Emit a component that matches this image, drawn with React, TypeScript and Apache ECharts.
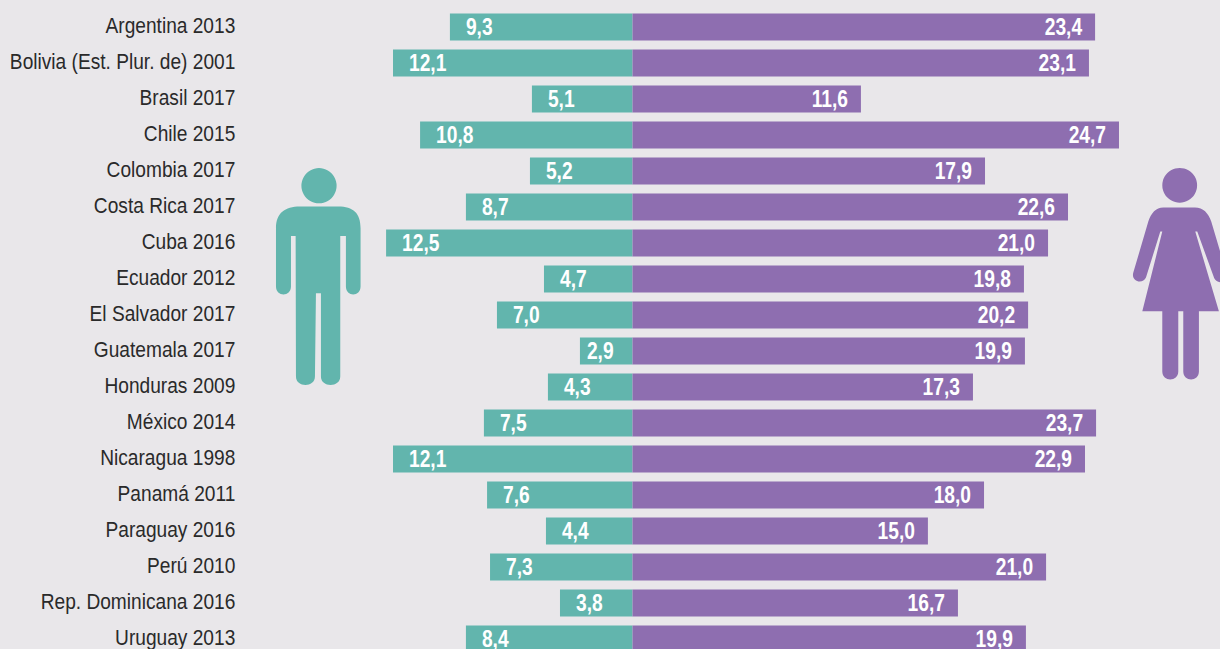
import React, { useEffect, useRef } from "react";
import * as echarts from "echarts";

const categories = [
  "Argentina 2013", "Bolivia (Est. Plur. de) 2001", "Brasil 2017", "Chile 2015", "Colombia 2017",
  "Costa Rica 2017", "Cuba 2016", "Ecuador 2012", "El Salvador 2017", "Guatemala 2017",
  "Honduras 2009", "México 2014", "Nicaragua 1998", "Panamá 2011", "Paraguay 2016",
  "Perú 2010", "Rep. Dominicana 2016", "Uruguay 2013",
];
// Values printed on the bars
const menValues = [9.3, 12.1, 5.1, 10.8, 5.2, 8.7, 12.5, 4.7, 7.0, 2.9, 4.3, 7.5, 12.1, 7.6, 4.4, 7.3, 3.8, 8.4];
const womenValues = [23.4, 23.1, 11.6, 24.7, 17.9, 22.6, 21.0, 19.8, 20.2, 19.9, 17.3, 23.7, 22.9, 18.0, 15.0, 21.0, 16.7, 19.9];
// Bar lengths: in the reference some bars differ slightly from their printed value
const menBars = [9.24, 12.12, 5.09, 10.75, 5.19, 8.43, 12.47, 4.48, 6.86, 2.66, 4.28, 7.52, 12.12, 7.36, 4.38, 7.21, 3.67, 8.43];
const womenBars = [23.41, 23.1, 11.56, 24.62, 17.84, 22.04, 21.03, 19.81, 20.02, 19.86, 17.23, 23.46, 22.9, 17.79, 14.95, 20.93, 16.47, 19.91];

const BG = "#E9E7EA";
const TEAL = "#62B5AD";
const PURPLE = "#8E6EB0";
const FONT = '"Liberation Sans", sans-serif';
const AXIS_MIN = -20;

const manBody =
  "M120 170 L235 170 C280 170 302 190 302 235 L302 410 C302 442 258 442 258 410 L258 258 L241 258 L241 680 C241 714 183 714 183 680 L183 430 L168 430 L165 680 C165 714 108 714 108 680 L107 258 L93 258 L93 410 C93 442 48 442 48 410 L48 235 C48 190 75 170 120 170 Z";
const womanBody =
  "M130 173 L225 173 C250 173 265 190 274 215 L320 370 C328 400 292 405 283 385 L232 245 L226 245 L297 484 L237 484 L237 665 C237 697 190 697 190 665 L190 484 L175 484 L175 665 C175 697 127 697 127 665 L127 484 L67 484 L127 245 L121 245 L78 383 C68 405 32 395 40 368 L85 215 C93 190 108 173 130 173 Z";

echarts.graphic.registerShape("manBody", echarts.graphic.extendPath(manBody, {}));
echarts.graphic.registerShape("womanBody", echarts.graphic.extendPath(womanBody, {}));

const fmt = (v: number) => Math.abs(v).toFixed(1).replace(".", ",");

const narrowText = (
  text: string,
  x: number,
  y: number,
  align: string,
  fontSize: number,
  weight: string,
  fill: string,
  scaleX: number
) => ({
  type: "text",
  x,
  y,
  scaleX,
  silent: true,
  style: {
    text,
    x: 0,
    y: 0,
    align,
    verticalAlign: "middle",
    fontFamily: FONT,
    fontSize,
    fontWeight: weight,
    fill,
  },
});

export default function App() {
  const ref = useRef<HTMLDivElement>(null);
  useEffect(() => {
    document.body.style.margin = "0";
    const chart = echarts.init(ref.current!, null, { renderer: "svg" });
    chart.setOption({
      animation: false,
      backgroundColor: BG,
      grid: { left: 237.3, top: 9, width: 988, height: 648, containLabel: false, outerBoundsMode: "none" },
      xAxis: { type: "value", min: AXIS_MIN, max: 30, show: false },
      yAxis: {
        type: "category",
        inverse: true,
        data: categories,
        axisLine: { show: false },
        axisTick: { show: false },
        axisLabel: { show: false },
      },
      series: [
        {
          type: "bar",
          name: "Hombres",
          stack: "total",
          barWidth: 27,
          itemStyle: { color: TEAL },
          data: menBars.map((v) => -v),
        },
        {
          type: "bar",
          name: "Mujeres",
          stack: "total",
          barWidth: 27,
          itemStyle: { color: PURPLE },
          data: womenBars,
        },
        {
          type: "custom",
          name: "Países",
          z: 10,
          coordinateSystem: "cartesian2d",
          encode: { x: 0, y: 1 },
          data: categories.map((_, i) => [AXIS_MIN, i]),
          renderItem: (params: any, api: any) => {
            const p = api.coord([api.value(0), api.value(1)]);
            return narrowText(categories[params.dataIndex], p[0] - 2, p[1] - 2, "right", 22, "normal", "#2a2a2a", 0.87);
          },
        },
        {
          type: "custom",
          name: "Etiquetas hombres",
          z: 10,
          coordinateSystem: "cartesian2d",
          encode: { x: 0, y: 1 },
          data: menBars.map((v, i) => [-v, i]),
          renderItem: (params: any, api: any) => {
            const i = params.dataIndex;
            const p = api.coord([api.value(0), api.value(1)]);
            const zero = api.coord([0, api.value(1)]);
            const offset = zero[0] - p[0] < 60 ? 7 : 16;
            return narrowText(fmt(menValues[i]), p[0] + offset, p[1], "left", 24, "bold", "#fff", 0.8);
          },
        },
        {
          type: "custom",
          name: "Etiquetas mujeres",
          z: 10,
          coordinateSystem: "cartesian2d",
          encode: { x: 0, y: 1 },
          data: womenBars.map((v, i) => [v, i]),
          renderItem: (params: any, api: any) => {
            const p = api.coord([api.value(0), api.value(1)]);
            return narrowText(fmt(womenValues[params.dataIndex]), p[0] - 13, p[1], "right", 24, "bold", "#fff", 0.8);
          },
        },
      ],
      graphic: [
        { type: "circle", silent: true, shape: { cx: 319, cy: 185.7, r: 17.6 }, style: { fill: TEAL } },
        { type: "manBody", silent: true, x: 260, y: 150, scaleX: 1 / 3, scaleY: 1 / 3, style: { fill: TEAL } },
        { type: "circle", silent: true, shape: { cx: 1179.7, cy: 185.3, r: 17.4 }, style: { fill: PURPLE } },
        { type: "womanBody", silent: true, x: 1120, y: 150, scaleX: 1 / 3, scaleY: 1 / 3, style: { fill: PURPLE } },
      ],
    });
    return () => chart.dispose();
  }, []);
  return <div ref={ref} style={{ width: 1220, height: 649, overflow: "hidden" }} />;
}
